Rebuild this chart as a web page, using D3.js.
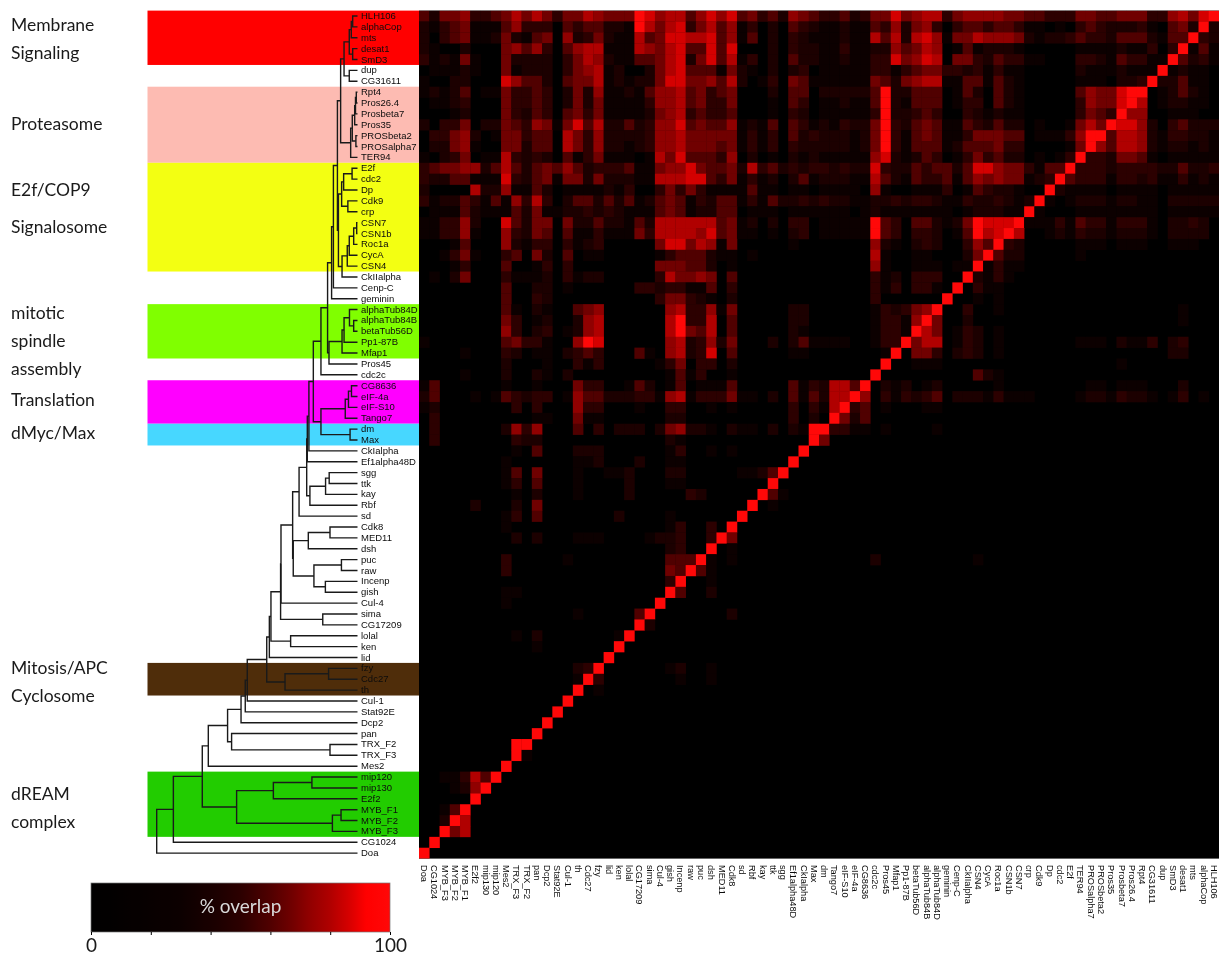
<!DOCTYPE html>
<html>
<head>
<meta charset="utf-8">
<script src="https://d3js.org/d3.v7.min.js"></script>
<style>
  html, body { margin: 0; padding: 0; background: #fff; }
  svg { display: block; filter: blur(0.45px); }
  .gene text { font-family: "Liberation Sans", sans-serif; fill: #0c0c0c; }
  .gene path { display: none; }
  .note { font-family: Lato, sans-serif; font-size: 17.5px; fill: #1a1a1a; }
</style>
</head>
<body>
<div id="chart"></div>
<script>
// genes top to bottom, the columns run the other way
var rowNames = ["HLH106","alphaCop","mts","desat1","SmD3","dup","CG31611","Rpt4","Pros26.4","Prosbeta7",
  "Pros35","PROSbeta2","PROSalpha7","TER94","E2f","cdc2","Dp","Cdk9","crp","CSN7",
  "CSN1b","Roc1a","CycA","CSN4","CkIIalpha","Cenp-C","geminin","alphaTub84D","alphaTub84B","betaTub56D",
  "Pp1-87B","Mfap1","Pros45","cdc2c","CG8636","eIF-4a","eIF-S10","Tango7","dm","Max",
  "CkIalpha","Ef1alpha48D","sgg","ttk","kay","Rbf","sd","Cdk8","MED11","dsh",
  "puc","raw","Incenp","gish","Cul-4","sima","CG17209","lolal","ken","lid",
  "fzy","Cdc27","th","Cul-1","Stat92E","Dcp2","pan","TRX_F2","TRX_F3","Mes2",
  "mip120","mip130","E2f2","MYB_F1","MYB_F2","MYB_F3","CG1024","Doa"];
var colNames = rowNames.slice().reverse();

// overlap, one digit per cell, digit = index in overlapLevels
var overlapLevels = [0, 30, 42, 50, 60, 67, 73, 80, 86, 100];
var overlapRows = [
  "4255633457 5753557655 5986774686 8453426543 3423558567 7356666554 4333554455 53367589",
  "2134511146 3330434422 1975783574 6130204321 1211436256 3034434431 1010343222 31045292",
  "2034511252 1450623521 1745887784 6140203211 1211747278 6155766652 1223433244 42144932",
  "2100200056 4630467711 1765784484 8000203221 1311226457 6014122210 0000111121 13039141",
  "3121510052 2220357621 1445782584 7130204221 1211338568 7055324331 1000332143 31194231",
  "0111210051 2220356712 0025784441 5210202301 1111331345 5332313110 0000211121 11912110",
  "1002200086 4420455712 1225885564 7201305411 1111542567 7114414210 0000111022 39224110",
  "1212401153 3430252611 2146674534 5000204402 2222492244 4014204210 0000465589 90124210",
  "0112300053 3430252511 1136674533 5000104301 1211492144 4013304210 0000365589 70122110",
  "0001200053 2430453511 1125673433 4000103201 1111392234 3003212110 0000354396 60011100",
  "2033502254 3651584722 4236684544 6121404312 1322593245 4114324220 1001575988 62034222",
  "0335620155 3440753622 2236675555 5131304232 2212593145 4113555440 1113699477 62133221",
  "0225610055 2440753622 1236675554 5131303222 2212593144 4124445330 0001596477 62122121",
  "1023501173 2320413511 1017584443 6020102121 1111682124 3013534220 1013933255 41011111",
  "3455662474 2454642333 4115668544 5273423233 2322832243 4424886553 1449333233 33224223",
  "3224411183 2451552522 2117778843 5131202412 2211742143 3414656551 2394333133 23113121",
  "2000072261 1420111121 3003535311 1141101101 1110610011 1301432210 0921111011 11011111",
  "3122431416 3730244242 4124541324 4131422323 2211223233 2113223212 9101222122 11022222",
  "0111421114 2511223232 1114541224 4011101111 1101211111 1101222119 1000111111 11011111",
  "1133620084 2550522422 1427777774 5120203301 1111943044 2125988891 1131433133 31022320",
  "1133610063 2540411311 1537777684 5110102301 1111943033 2014978970 0121322122 21022220",
  "0001400062 1330312300 0005885761 5000001000 0000621023 2003649320 0000111011 10011100",
  "0013510034 0520401100 0001344421 1010000000 0000710011 0002594220 0000100000",
  "0001300040 0130300000 0005554420 1000000000 0000610011 1011913110",
  "0102500031 1120312200 0003755650 4000000000 0000312033 3009213100",
  "0000000040 0220100000 0332331140 3000000000 0000313033 1090311000",
  "0000000040 0320000000 0003553210 2000000000 0000300000 0900101000",
  "0000000041 0210045600 0000673361 5000002200 0000132356 9003001000 0000000000 00001000",
  "0000000053 0120026700 0000793370 4000002200 0000133169 5002000000 0000000000 00001000",
  "0000000063 0230126700 0000795470 4000002100 0000133197 5013201000",
  "1000000045 3310069800 0000672362 5000202411 1100133957 7013201000 0000111021 13023000",
  "0000100032 0110234300 0410672380 4000001100 0000019055 3023201000 0000000000 00022000",
  "0000000020 0010031300 0001350330 2000000000 0000090011 1000000000 0000000010",
  "0000100020 0210200000 0000141300 1000000000 0000900000 0000421000",
  "1400000010 0100053300 1420140111 4000004132 7749021201 2000001000 0000011011 10002000",
  "2400010143 2330164422 2331671333 5110204142 7796031323 4022213111 0000122132 21013010",
  "1200000003 0300063300 0100330010 1000003031 7934010001 1000000000",
  "0300000000 0110051100 0000220000 0000003020 9524000000",
  "0300000026 3600040302 2202562210 2110202199 3311010000 1000000000",
  "0300000003 2200000000 0000210000 0000000095",
  "0000000001 0400022200 0000130010 1000000900",
  "0000000010 0000011200 0200110000 0000009000",
  "0000000014 0500010011 2000220000 0112490000",
  "0000000013 0400010000 2000110000 0000900000",
  "0000000001 0200010000 2000003200 0009410000",
  "0000020002 0500000000 0000000000 0090100000",
  "0000000013 0400000002 0000100000 0900000000",
  "0000000010 0000000000 0000130030 9000000000",
  "0000000002 0200011100 0012230039 5000000000",
  "0000000000 0000000000 0000230090 1000000000",
  "0000000030 0000100000 0000444910 1000000000 0000200000 0000100000",
  "0000000030 0000000000 0000549410",
  "0000000000 0000000000 0000390010",
  "0000000011 0000000000 0000940020",
  "0000000010 0000000000 0009000000",
  "0000000000 0000010000 0490000000 2000000000",
  "0000000000 0000000000 0920000000",
  "0000000001 0200000001 9000000000",
  "0000000000 0100000009",
  "0000000000 0000000090",
  "0000000000 0000023900 0000120010",
  "0000000000 0000019300 0000010010",
  "0000000000 0000090100",
  "0000000000 0000900000",
  "0000000000 0009000000",
  "0000000000 0090000000",
  "0000000000 0900000000",
  "0000000009 9000000000",
  "0000000009 1000000000",
  "0000000090",
  "0011374900",
  "0001269000",
  "0000090000",
  "0014900000",
  "0029700000",
  "0095700000",
  "0900000000",
  "9000000000"
];

// clustering, each merge: [node, left, right, height] with height as % of the root
var merges = [
  ["n1","HLH106","alphaCop",2.4],["n2","n1","mts",3.1],["n3","desat1","SmD3",2.4],["n4","n2","n3",4.1],
  ["n5","dup","CG31611",4.1],["n6","n4","n5",6.7],
  ["p1","Rpt4","Pros26.4",0.6],["p2","p1","Prosbeta7",1.0],["p3","p2","Pros35",1.4],
  ["p4","PROSbeta2","PROSalpha7",0.8],["p5","p3","p4",2.6],["p6","p5","TER94",3.4],["ab","n6","p6",8.4],
  ["e1","E2f","cdc2",2.7],["e2","e1","Dp",6.9],["e3","Cdk9","crp",4.8],["e4","e2","e3",7.9],
  ["c1","CSN7","CSN1b",0.4],["c2","c1","Roc1a",1.9],["c3","c2","CycA",4.1],["c4","c3","CSN4",5.1],
  ["c5","c4","CkIIalpha",7.7],["f","e4","c5",9.5],["g","ab","f",10],["g2","g","Cenp-C",12],["g3","g2","geminin",12.9],
  ["t1","alphaTub84B","betaTub56D",1.9],["t2","alphaTub84D","t1",4],["t3","t2","Pp1-87B",6.7],["t4","t3","Mfap1",7.7],
  ["t5","t4","Pros45",14.2],["k","g3","t5",14.9],["k2","k","cdc2c",18.2],
  ["tr1","CG8636","eIF-4a",3],["tr2","tr1","eIF-S10",4.5],["tr3","tr2","Tango7",6.1],["m1","dm","Max",3.7],
  ["tm","tr3","m1",18.2],["j","k2","tm",22],["j2","j","CkIalpha",24.2],["j3","j2","Ef1alpha48D",25],
  ["s1","sgg","ttk",14.1],["s2","s1","kay",15.9],["s3","s2","Rbf",23.7],["j4","j3","s3",25.3],["j5","j4","sd",29.1],
  ["cd1","Cdk8","MED11",13.7],["cd2","cd1","dsh",24.5],["pu1","puc","raw",8],["in1","Incenp","gish",16],
  ["pu2","pu1","in1",21.7],["cp","cd2","pu2",32],["j6","j5","cp",32.3],["j7","j6","Cul-4",38.1],
  ["si","sima","CG17209",17.3],["j8","j7","si",38.3],["lo","lolal","ken",33.3],["j9","j8","lo",43.1],["j10","j9","lid",43.9],
  ["fz","fzy","Cdc27",14.4],["fz2","fz","th",36.1],["j11","j10","fz2",45.2],["j12","j11","Cul-1",54.9],
  ["j13","j12","Stat92E",55.9],["j14","j13","Dcp2",58],["tx","TRX_F2","TRX_F3",13.7],["tx2","pan","tx",62.7],
  ["j15","j14","tx2",64.7],["j16","j15","Mes2",74.3],
  ["mi","mip120","mip130",22.7],["mi2","mi","E2f2",41.9],["my","MYB_F1","MYB_F2",8.2],["my2","my","MYB_F3",12.5],
  ["dr","mi2","my2",60.2],["j17","j16","dr",77.3],["j18","j17","CG1024",91.7],["root","j18","Doa",100]
];

// coloured bands behind the tree: first gene, last gene, colour
var bands = [
  ["HLH106","SmD3","#ff0000"],
  ["Rpt4","TER94","#fdbbb2"],
  ["E2f","CSN4","#f3ff12"],
  ["alphaTub84D","Mfap1","#80ff00"],
  ["CG8636","Tango7","#ff00ff"],
  ["dm","Max","#47d7ff"],
  ["fzy","th","#4f2d0a"],
  ["mip120","MYB_F3","#22cc00"]
];

var noteText = ["Membrane","Signaling","Proteasome","E2f/COP9","Signalosome","mitotic","spindle","assembly",
  "Translation","dMyc/Max","Mitosis/APC","Cyclosome","dREAM","complex"];
var noteY = [31, 59, 130, 196, 233, 319, 347, 375, 406, 439, 674, 702, 800, 828];

var legendTicks = [0, 20, 40, 60, 80, 100];

var width = 1225, height = 956;

var svg = d3.select("#chart")
  .append("svg")
  .attr("width", width)
  .attr("height", height);

var defs = svg.append("defs");

// the source picture is soft, the cells run into each other a little
defs.append("filter")
  .attr("id", "soft")
  .attr("color-interpolation-filters", "sRGB")
  .append("feGaussianBlur")
  .attr("stdDeviation", 0.55);

var x = d3.scaleBand().domain(colNames).range([419, 1219]);
var y = d3.scaleBand().domain(rowNames).range([10.6, 858.6]);

defs.append("clipPath")
  .attr("id", "heatClip")
  .append("rect")
  .attr("x", 419).attr("y", y(rowNames[0]))
  .attr("width", 800).attr("height", 848);

// black to red, flat for the low end like the key
var color = d3.scaleLinear()
  .domain([0, 30, 42, 50, 60, 67, 73, 80, 86, 92, 100])
  .range(["#000000","#0c0000","#1c0000","#2c0000","#500000","#700000","#900000","#b00000","#d40000","#ff0000","#ff0808"]);

// bands
svg.append("g").selectAll("rect")
  .data(bands)
  .enter().append("rect")
  .attr("x", 147.5)
  .attr("width", 419 - 147.5)
  .attr("y", function(d) { return y(d[0]); })
  .attr("height", function(d) { return y(d[1]) + y.bandwidth() - y(d[0]); })
  .attr("fill", function(d) { return d[2]; });

// heatmap
var cells = [];
overlapRows.forEach(function(row, r) {
  var digits = row.replace(/ /g, "").padEnd(colNames.length, "0");
  colNames.forEach(function(col, c) {
    cells.push({ row: rowNames[r], col: col, value: overlapLevels[+digits[c]] });
  });
});

svg.append("rect")
  .attr("x", 419).attr("y", y(rowNames[0]))
  .attr("width", 800).attr("height", 848)
  .attr("fill", "#000");

svg.append("g")
  .attr("clip-path", "url(#heatClip)")
  .append("g")
  .attr("filter", "url(#soft)")
  .selectAll("rect")
  .data(cells.filter(function(d) { return d.value > 0; }))
  .enter().append("rect")
  .attr("x", function(d) { return x(d.col); })
  .attr("y", function(d) { return y(d.row); })
  .attr("width", x.bandwidth() + 0.3)
  .attr("height", y.bandwidth() + 0.3)
  .attr("fill", function(d) { return color(d.value); });

// dendrogram
var treeX = d3.scaleLinear().domain([0, 100]).range([357.5, 156.7]);
var nodes = new Map();
rowNames.forEach(function(name) {
  nodes.set(name, { h: 0, y: y(name) + y.bandwidth() / 2 });
});
merges.forEach(function(m) {
  nodes.set(m[0], { h: m[3], y: (nodes.get(m[1]).y + nodes.get(m[2]).y) / 2 });
});

svg.append("g").selectAll("path")
  .data(merges)
  .enter().append("path")
  .attr("fill", "none")
  .attr("stroke", "#1a1a1a")
  .attr("stroke-width", 1.4)
  .attr("d", function(m) {
    var a = nodes.get(m[1]), b = nodes.get(m[2]), p = d3.path();
    p.moveTo(treeX(a.h), a.y);
    p.lineTo(treeX(m[3]), a.y);
    p.lineTo(treeX(m[3]), b.y);
    p.lineTo(treeX(b.h), b.y);
    return p.toString();
  });

// gene labels
svg.append("g")
  .attr("class", "gene")
  .attr("transform", "translate(361,0)")
  .call(d3.axisRight(y).tickSize(0).tickPadding(0))
  .call(function(g) { g.selectAll("text").style("font-size", "9.5px"); });

svg.append("g")
  .attr("class", "gene")
  .attr("transform", "translate(0,865)")
  .call(d3.axisBottom(x).tickSize(0).tickPadding(0))
  .call(function(g) {
    g.selectAll("text")
      .style("font-size", "9.2px")
      .attr("y", 0)
      .attr("dy", "0.33em")
      .attr("text-anchor", "start")
      .attr("transform", "rotate(90)");
  });

// group names
svg.append("g").selectAll("text")
  .data(noteText)
  .enter().append("text")
  .attr("class", "note")
  .attr("x", 11)
  .attr("y", function(d, i) { return noteY[i]; })
  .text(function(d) { return d; });

// colour key
var keyX = d3.scaleLinear().domain([0, 100]).range([91, 390]);

var grad = defs.append("linearGradient").attr("id", "keyGrad");
d3.range(0, 101, 2).forEach(function(v) {
  grad.append("stop").attr("offset", v + "%").attr("stop-color", color(v));
});

svg.append("rect")
  .attr("x", keyX(0)).attr("y", 883)
  .attr("width", keyX(100) - keyX(0)).attr("height", 49)
  .attr("fill", "url(#keyGrad)")
  .attr("stroke", "#777")
  .attr("stroke-width", 0.7);

svg.append("text")
  .attr("x", keyX(50)).attr("y", 913)
  .attr("text-anchor", "middle")
  .attr("font-family", "Lato, sans-serif")
  .attr("font-size", 19)
  .attr("fill", "#d9d9d9")
  .text("% overlap");

svg.append("g")
  .attr("transform", "translate(0,932)")
  .call(d3.axisBottom(keyX)
    .tickValues(legendTicks)
    .tickSize(3)
    .tickPadding(4)
    .tickFormat(function(d) { return d === 0 || d === 100 ? d : ""; }))
  .call(function(g) {
    g.select(".domain").remove();
    g.selectAll("text")
      .style("font-family", "Lato, sans-serif")
      .style("font-size", "19px")
      .attr("fill", "#1a1a1a");
  });
</script>
</body>
</html>
